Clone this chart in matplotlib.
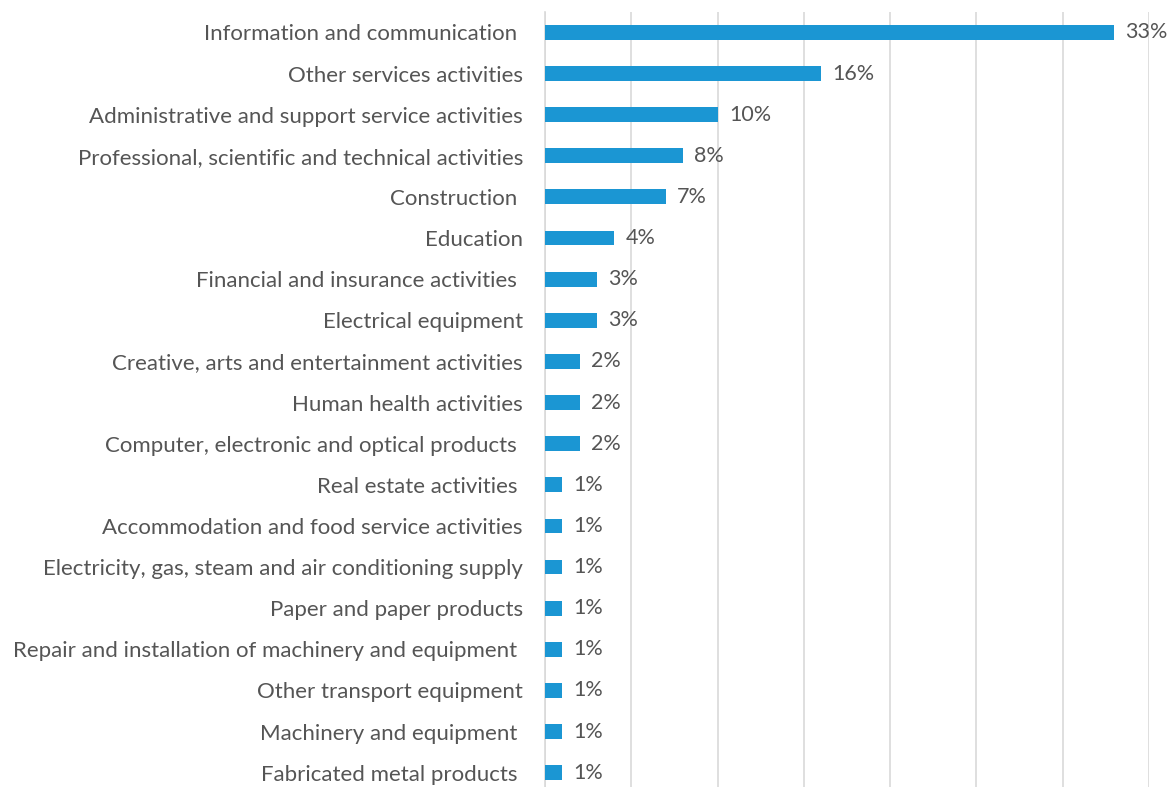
import matplotlib
matplotlib.use("Agg")
import matplotlib.pyplot as plt

# sectors, top to bottom, and their shares in percent
sectors = [
    "Information and communication ",
    "Other services activities",
    "Administrative and support service activities",
    "Professional, scientific and technical activities",
    "Construction ",
    "Education",
    "Financial and insurance activities ",
    "Electrical equipment",
    "Creative, arts and entertainment activities",
    "Human health activities",
    "Computer, electronic and optical products ",
    "Real estate activities ",
    "Accommodation and food service activities",
    "Electricity, gas, steam and air conditioning supply",
    "Paper and paper products",
    "Repair and installation of machinery and equipment ",
    "Other transport equipment",
    "Machinery and equipment ",
    "Fabricated metal products ",
]
shares = [33, 16, 10, 8, 7, 4, 3, 3, 2, 2, 2, 1, 1, 1, 1, 1, 1, 1, 1]

bar_color = "#1B96D3"
text_color = "#555555"

plt.rcParams["font.family"] = ["Lato", "DejaVu Sans"]

fig = plt.figure(figsize=(11.7, 7.87), dpi=100)
ax = fig.add_axes([0.466, -0.008, 0.516, 0.993])

ypos = list(range(len(sectors)))
ax.barh(ypos, shares, height=0.36, color=bar_color, zorder=3)

for y, v in zip(ypos, shares):
    ax.annotate(f"{v}%", xy=(v, y), xytext=(8, 0), textcoords="offset points",
                va="center", ha="left", fontsize=15.5, color=text_color)

ax.set_xlim(0, 35)
ax.set_ylim(len(sectors) - 0.5, -0.5)
ax.set_xticks(range(0, 36, 5))
ax.set_xticklabels([])
ax.xaxis.grid(True, color="#D9D9D9", linewidth=1.2, zorder=0)
ax.set_yticks(ypos)
ax.set_yticklabels(sectors, fontsize=16, color=text_color)
ax.tick_params(axis="y", length=0, pad=16)
ax.tick_params(axis="x", length=0)
for side in ["top", "right", "bottom"]:
    ax.spines[side].set_visible(False)
ax.spines["left"].set_color("#D9D9D9")
ax.spines["left"].set_linewidth(1.2)

fig.savefig("out.png", dpi=100)
